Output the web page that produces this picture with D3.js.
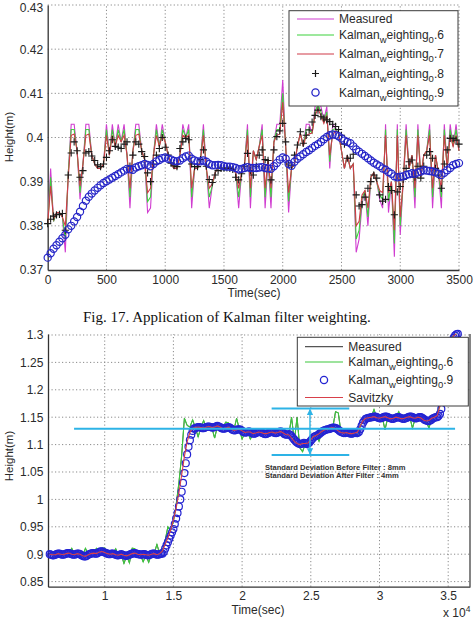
<!DOCTYPE html>
<html><head><meta charset="utf-8">
<script src="https://cdn.jsdelivr.net/npm/d3@7"></script>
<style>body{margin:0;background:#fff}svg{display:block}</style>
</head><body>
<svg id="chart" width="475" height="619"></svg>
<script>
// ================= DATA : top chart (Fig. 17) =================
const topStartSec = 0, topStepSec = 25;            // sample times: 0,25,...,3500 s
const topXTicks = [0,500,1000,1500,2000,2500,3000,3500];
const topYTicks = [0.37,0.38,0.39,0.40,0.41,0.42,0.43];
const topYLabels = ["0.37","0.38","0.39","0.4","0.41","0.42","0.43"];
const measuredTop = [
.380,.393,.381,.383,.383,.382,.374,.392,.403,.403,
.397,.386,.394,.403,.403,.396,.394,.393,.393,.394,
.403,.396,.403,.398,.403,.399,.403,.396,.384,.397,
.403,.403,.397,.395,.383,.384,.396,.403,.398,.403,
.399,.396,.394,.393,.393,.396,.403,.400,.403,.384,
.393,.393,.395,.403,.393,.384,.389,.392,.3935,.393,
.3925,.393,.3935,.393,.392,.384,.392,.394,.403,.384,
.397,.395,.398,.403,.384,.395,.384,.399,.403,.403,
.413,.398,.383,.393,.394,.398,.401,.398,.403,.403,
.401,.407,.409,.407,.404,.407,.393,.403,.402,.401,
.397,.393,.396,.393,.394,.374,.377,.385,.388,.380,
.391,.392,.390,.386,.384,.403,.383,.390,.373,.403,
.378,.390,.403,.393,.396,.384,.403,.391,.396,.397,
.403,.384,.396,.392,.384,.403,.393,.403,.398,.403,
.397];
const kalman06Top = [
.380,.391,.381,.383,.383,.382,.377,.392,.4018,.4018,
.397,.3875,.394,.4018,.4018,.396,.394,.393,.393,.394,
.4018,.396,.4018,.398,.4018,.399,.4018,.396,.3865,.397,
.4018,.4018,.397,.395,.3855,.3865,.396,.4018,.398,.4018,
.399,.396,.394,.393,.393,.396,.4018,.400,.4018,.3865,
.393,.393,.395,.4018,.393,.3865,.389,.392,.3935,.393,
.3925,.393,.3935,.393,.392,.3865,.392,.394,.4018,.3865,
.397,.395,.398,.4018,.3865,.395,.3865,.399,.4018,.4018,
.410,.398,.3855,.393,.394,.398,.401,.398,.4018,.4018,
.401,.4058,.4075,.4058,.4035,.4058,.3945,.4018,.402,.401,
.397,.393,.396,.393,.394,.377,.379,.386,.388,.382,
.391,.392,.390,.387,.386,.4018,.3855,.390,.376,.4018,
.380,.390,.4018,.393,.396,.3865,.4018,.391,.396,.397,
.4018,.3865,.396,.392,.3865,.4018,.393,.4018,.398,.4018,
.397];
const kalman07Top = [
.3805,.389,.3815,.383,.383,.382,.380,.391,.4005,.4008,
.397,.389,.394,.4005,.4008,.396,.394,.393,.393,.394,
.4005,.396,.4005,.398,.4005,.399,.4005,.396,.3885,.397,
.4005,.4008,.397,.395,.3875,.3885,.396,.4005,.398,.4005,
.399,.396,.394,.393,.393,.396,.4005,.400,.4005,.3885,
.393,.393,.395,.4005,.393,.3885,.3895,.392,.3933,.393,
.3927,.393,.3933,.393,.392,.3885,.392,.394,.4005,.3885,
.397,.395,.398,.4005,.3885,.395,.3885,.399,.4005,.4008,
.408,.398,.3875,.393,.394,.398,.401,.398,.4005,.4008,
.401,.405,.4065,.405,.4032,.405,.396,.4005,.4015,.401,
.397,.393,.396,.393,.394,.380,.381,.387,.388,.384,
.391,.392,.390,.388,.3875,.4005,.3875,.390,.379,.4005,
.382,.390,.4005,.393,.396,.3885,.4005,.391,.396,.397,
.4005,.3885,.396,.392,.3885,.4005,.393,.4005,.398,.4005,
.397];
const kalman08Top = [
.3805,.3815,.3822,.3825,.3826,.3828,.3790,.3915,.3965,.3990,
.3970,.3910,.3925,.3965,.3968,.3958,.3948,.3938,.3934,.3940,
.3955,.3970,.3995,.3980,.3978,.3975,.3985,.3990,.3935,.3960,
.3990,.3985,.3968,.3957,.3920,.3900,.3940,.3960,.3975,.4000,
.3978,.3960,.3942,.3936,.3934,.3975,.3990,.3998,.3995,.3940,
.3934,.3934,.3950,.3972,.3935,.3905,.3898,.3915,.3925,.3930,
.3931,.3931,.3930,.3928,.3910,.3904,.3918,.3935,.3964,.3925,
.3915,.3935,.3960,.3972,.3950,.3948,.3904,.3972,.4002,.4015,
.4032,.3990,.3940,.3936,.3960,.3983,.4013,.3987,.4005,.4017,
.4035,.4050,.4062,.4047,.4044,.4040,.4036,.4030,.4025,.4018,
.4005,.3985,.3953,.3953,.3962,.3870,.3845,.3848,.3865,.3885,
.3900,.3915,.3908,.3870,.3856,.3860,.3889,.3880,.3825,.3877,
.3889,.3905,.3930,.3945,.3949,.3910,.3935,.3908,.3935,.3960,
.3968,.3953,.3930,.3915,.3885,.3940,.3972,.3998,.3998,.3994,
.3985];
const kalman09Top = [
.3728,.3738,.3748,.3756,.3764,.3772,.3780,.3792,.3800,.3810,
.3820,.3832,.3845,.3857,.3866,.3873,.3880,.3886,.3892,.3897,
.3901,.3905,.3909,.3913,.3917,.3921,.3925,.3929,.3928,.3927,
.3932,.3935,.3937,.3940,.3938,.3935,.3940,.3946,.3949,.3953,
.3955,.3952,.3950,.3947,.3946,.3948,.3953,.3957,.3959,.3952,
.3948,.3946,.3946,.3948,.3945,.3940,.3937,.3937,.3938,.3937,
.3935,.3934,.3934,.3933,.3931,.3928,.3929,.3931,.3933,.3931,
.3931,.3931,.3932,.3933,.3931,.3930,.3929,.3935,.3942,.3950,
.3955,.3952,.3940,.3936,.3945,.3952,.3957,.3962,.3967,.3971,
.3976,.3981,.3985,.3990,.3996,.4001,.4005,.4007,.4006,.4003,
.3998,.3993,.3990,.3987,.3980,.3973,.3968,.3963,.3958,.3953,
.3948,.3943,.3939,.3935,.3930,.3927,.3922,.3918,.3912,.3910,
.3911,.3912,.3915,.3917,.3919,.3918,.3921,.3923,.3926,.3925,
.3924,.3923,.3921,.3918,.3915,.3920,.3926,.3931,.3937,.3940,
.3942];

// ================= DATA : bottom chart =================
const lowXTicks = [10000,15000,20000,25000,30000,35000];
const lowXLabels = ["1","1.5","2","2.5","3","3.5"];
const lowYTicks = [0.85,0.9,0.95,1,1.05,1.1,1.15,1.2,1.25,1.3];
const lowYLabels = ["0.85","0.9","0.95","1","1.05","1.1","1.15","1.2","1.25","1.3"];
const circleStartSec = 6000, circleStepSec = 100;  // Kalman 0.9 samples
const lineStartSec = 6000, lineStepSec = 200;      // Measured / Kalman 0.6 / Savitzky samples
const kalman09Low = [
.900,.899,.898,.898,.899,.900,.901,.901,.900,.899,
.899,.900,.901,.902,.902,.901,.900,.899,.899,.900,
.901,.901,.900,.898,.897,.896,.896,.897,.899,.900,
.901,.902,.902,.901,.901,.902,.904,.905,.905,.904,
.903,.902,.901,.900,.900,.901,.901,.900,.899,.898,
.898,.899,.900,.899,.898,.897,.897,.898,.899,.900,
.901,.902,.902,.901,.900,.900,.899,.899,.900,.900,
.899,.898,.898,.899,.900,.901,.901,.900,.899,.899,
.900,.901,.901,.904,.910,.916,.922,.928,.934,.940,
.946,.955,.965,.975,.987,1.000,1.014,1.030,1.048,1.066,
1.082,1.096,1.108,1.118,1.125,1.129,1.130,1.131,1.132,1.132,
1.131,1.130,1.130,1.131,1.132,1.133,1.133,1.132,1.131,1.131,
1.132,1.133,1.134,1.133,1.132,1.130,1.129,1.129,1.130,1.131,
1.132,1.131,1.129,1.127,1.126,1.126,1.127,1.128,1.128,1.127,
1.125,1.123,1.122,1.122,1.123,1.124,1.123,1.121,1.120,1.120,
1.121,1.122,1.123,1.123,1.122,1.121,1.120,1.119,1.120,1.121,
1.122,1.123,1.123,1.122,1.121,1.121,1.122,1.123,1.124,1.123,
1.121,1.119,1.118,1.118,1.119,1.118,1.115,1.112,1.109,1.106,
1.104,1.102,1.101,1.101,1.102,1.103,1.102,1.101,1.102,1.104,
1.107,1.110,1.113,1.115,1.116,1.117,1.119,1.121,1.123,1.125,
1.126,1.127,1.128,1.128,1.129,1.130,1.131,1.131,1.130,1.129,
1.127,1.125,1.123,1.122,1.121,1.121,1.122,1.122,1.121,1.120,
1.120,1.121,1.122,1.121,1.121,1.123,1.128,1.134,1.140,1.144,
1.147,1.148,1.149,1.149,1.150,1.150,1.151,1.151,1.150,1.149,
1.148,1.148,1.149,1.150,1.151,1.151,1.150,1.149,1.148,1.147,
1.147,1.148,1.149,1.150,1.150,1.149,1.148,1.147,1.147,1.148,
1.149,1.150,1.151,1.151,1.150,1.149,1.148,1.148,1.149,1.150,
1.150,1.149,1.147,1.145,1.144,1.143,1.143,1.144,1.146,1.148,
1.149,1.150,1.150,1.152,1.156,1.165,1.180,1.198,1.216,1.234,
1.250,1.265,1.278,1.288,1.295,1.299,1.301,1.302];
const savitzkyLow = [
.900,.899,.899,.901,.900,  .899,.901,.902,.900,.899,
.901,.900,.897,.896,.899,  .901,.902,.901,.904,.905,
.903,.901,.900,.901,.899,  .898,.900,.898,.897,.899,
.901,.902,.900,.899,.900,  .899,.898,.900,.901,.899,
.901,.906,.918,.930,.944,  .962,.984,1.012,1.044,1.078,
1.105,1.122,1.130,1.131,1.132,  1.131,1.130,1.132,1.133,1.131,
1.132,1.134,1.132,1.129,1.130,  1.132,1.129,1.126,1.127,1.128,
1.125,1.122,1.123,1.123,1.120,  1.121,1.123,1.122,1.120,1.120,
1.122,1.123,1.121,1.122,1.124,  1.121,1.118,1.118,1.112,1.106,
1.102,1.100,1.102,1.102,1.103,  1.109,1.115,1.117,1.120,1.124,
1.127,1.128,1.130,1.131,1.129,  1.125,1.122,1.121,1.122,1.120,
1.120,1.121,1.123,1.134,1.144,  1.148,1.149,1.150,1.151,1.149,
1.148,1.150,1.151,1.149,1.147,  1.148,1.150,1.149,1.147,1.148,
1.150,1.151,1.149,1.148,1.150,  1.149,1.145,1.143,1.144,1.148,
1.150,1.153,1.170,1.205,1.240,  1.268,1.288,1.299,1.302];
const kalman06Low = [
.900,.900,.899,.901,.900,  .899,.901,.902,.911,.899,
.901,.900,.897,.911,.899,  .901,.902,.911,.904,.911,
.911,.901,.900,.901,.910,  .898,.900,.883,.897,.884,
.911,.910,.900,.899,.886,  .899,.885,.900,.901,.918,
.901,.906,.925,.950,.944,  .960,.990,1.030,1.080,1.148,
1.135,1.132,1.145,1.131,1.114,  1.131,1.144,1.130,1.133,1.131,
1.112,1.133,1.132,1.129,1.141,  1.140,1.129,1.126,1.148,1.128,
1.110,1.122,1.123,1.110,1.120,  1.121,1.123,1.122,1.120,1.120,
1.122,1.123,1.121,1.122,1.124,  1.121,1.118,1.118,1.150,1.106,
1.150,1.094,1.087,1.102,1.103,  1.109,1.115,1.117,1.106,1.124,
1.127,1.128,1.130,1.131,1.160,  1.158,1.122,1.121,1.122,1.120,
1.115,1.121,1.115,1.134,1.144,  1.148,1.149,1.150,1.164,1.149,
1.148,1.150,1.127,1.149,1.147,  1.148,1.150,1.160,1.147,1.148,
1.150,1.151,1.130,1.148,1.150,  1.149,1.145,1.143,1.130,1.148,
1.150,1.153,1.180,1.215,1.250,  1.275,1.292,1.300,1.302];
const measuredLow = kalman06Low;   // raw trace lies under the Kalman 0.6 trace
// annotation (data units)
const meanLevel = 1.129, upperLevel = 1.166, lowerLevel = 1.081;
const meanSpanSec = [7770, 35500], stdSpanSec = [22150, 27800], arrowSec = 24940;
const annoLines = ["Standard Deviation Before Filter : 8mm","Standard Deviation After Filter : 4mm"];
const annoPos = [[21660, 1.054],[21660, 1.0385]];

// ================= DRAWING =================
const FONT = "'Liberation Sans', Arial, Helvetica, sans-serif";
const GRID = "#8a8a8a", AXIS = "#333", TXT = "#2a2a2a";
const svg = d3.select("#chart");

function panel(x, y, xt, xl, yt, yl, xPad, yPad) {
  const g = svg.append("g");
  const [x0, x1] = x.range(), [y0, y1] = y.range();
  g.selectAll(".gv").data(xt.filter(t => Math.abs(x(t) - x0) > 1)).enter().append("line")
    .attr("x1", d => x(d)).attr("x2", d => x(d)).attr("y1", y0).attr("y2", y1)
    .attr("stroke", GRID).attr("stroke-dasharray", "1.2,2.3").attr("stroke-width", 1);
  g.selectAll(".gh").data(yt.filter(t => Math.abs(y(t) - y0) > 1)).enter().append("line")
    .attr("y1", d => y(d)).attr("y2", d => y(d)).attr("x1", x0).attr("x2", x1)
    .attr("stroke", GRID).attr("stroke-dasharray", "1.2,2.3").attr("stroke-width", 1);
  const ax = g.append("g").attr("transform", `translate(0,${y0})`)
    .call(d3.axisBottom(x).tickValues(xt).tickFormat((d, i) => xl[i]).tickSize(0).tickSizeOuter(0).tickPadding(xPad));
  const ay = g.append("g").attr("transform", `translate(${x0},0)`)
    .call(d3.axisLeft(y).tickValues(yt).tickFormat((d, i) => yl[i]).tickSize(0).tickSizeOuter(0).tickPadding(yPad));
  [ax, ay].forEach(a => {
    a.attr("font-family", FONT).attr("font-size", 12);
    a.select(".domain").attr("stroke", AXIS).attr("stroke-width", 1.3);
    a.selectAll("text").attr("fill", TXT);
  });
  // keep a label that sits on the very top edge inside the picture
  ay.selectAll(".tick text").filter(function () {
    const tr = this.parentNode.getAttribute("transform");
    return tr && +tr.match(/,([\d.\-]+)\)/)[1] < 8;
  }).attr("dy", "0.5em");
  return g;
}

function plusPath(px, py, s) { return `M${px - s},${py}H${px + s}M${px},${py - s}V${py + s}`; }

function addLabel(sel, parts) {
  let sub = false;
  parts.forEach(([txt, isSub]) => {
    const dy = isSub && !sub ? 4 : (!isSub && sub ? -4 : 0);
    sel.append("tspan").attr("dy", dy).attr("font-size", isSub ? 9.5 : 12).text(txt);
    sub = isSub;
  });
}

function legend(g, box, lx, tx, items) {
  g.append("rect").attr("x", box[0]).attr("y", box[1]).attr("width", box[2] - box[0]).attr("height", box[3] - box[1])
    .attr("fill", "#fff").attr("stroke", "#3a3a3a").attr("stroke-width", 1);
  items.forEach(it => {
    if (it.type === "line") g.append("line").attr("x1", lx[0]).attr("x2", lx[1]).attr("y1", it.cy).attr("y2", it.cy)
      .attr("stroke", it.color).attr("stroke-width", 1.2);
    else if (it.type === "plus") g.append("path").attr("d", plusPath((lx[0] + lx[1]) / 2, it.cy, 3.5))
      .attr("stroke", it.color).attr("stroke-width", 1.2);
    else g.append("circle").attr("cx", (lx[0] + lx[1]) / 2).attr("cy", it.cy).attr("r", 3.6)
      .attr("fill", "none").attr("stroke", it.color).attr("stroke-width", 1.3);
    const t = g.append("text").attr("x", tx).attr("y", it.cy + 4).attr("font-family", FONT).attr("fill", TXT);
    addLabel(t, it.label);
  });
}
const kLabel = s => [["Kalman", 0], ["w", 1], ["eighting", 0], ["0", 1], [s, 0]];

// ---------- top chart ----------
const xT = d3.scaleLinear().domain([0, 3500]).range([47.7, 459]);
const yT = d3.scaleLinear().domain([0.37, 0.43]).range([270, 5]);
const gT = panel(xT, yT, topXTicks, topXTicks.map(String), topYTicks, topYLabels, 5, 4.5);
const tSec = i => topStartSec + i * topStepSec;
const lineT = d3.line().x((d, i) => xT(tSec(i))).y(d => yT(d));
[[measuredTop, "#d03cd0"], [kalman06Top, "#3cd23c"], [kalman07Top, "#d03a48"]].forEach(([arr, c]) =>
  gT.append("path").datum(arr).attr("d", lineT).attr("fill", "none").attr("stroke", c).attr("stroke-width", 1.1));
gT.append("g").selectAll("path").data(kalman08Top).enter().append("path")
  .attr("d", (d, i) => plusPath(xT(tSec(i)), yT(d), 3.6)).attr("stroke", "#1a1a1a").attr("stroke-width", 1.1);
gT.append("g").selectAll("circle").data(kalman09Top).enter().append("circle")
  .attr("cx", (d, i) => xT(tSec(i))).attr("cy", d => yT(d)).attr("r", 3.6)
  .attr("fill", "none").attr("stroke", "#2626c8").attr("stroke-width", 1.2);
legend(gT, [289, 10.7, 458, 106], [297, 334], 339, [
  {type: "line", color: "#d03cd0", cy: 19, label: [["Measured", 0]]},
  {type: "line", color: "#3cd23c", cy: 35, label: kLabel(".6")},
  {type: "line", color: "#d03a48", cy: 54, label: kLabel(".7")},
  {type: "plus", color: "#1a1a1a", cy: 73.5, label: kLabel(".8")},
  {type: "circle", color: "#2626c8", cy: 92.5, label: kLabel(".9")}
]);
svg.append("text").attr("x", 254).attr("y", 296.5).attr("text-anchor", "middle")
  .attr("font-family", FONT).attr("font-size", 12).attr("fill", TXT).text("Time(sec)");
svg.append("text").attr("transform", "translate(12.5,137) rotate(-90)").attr("text-anchor", "middle")
  .attr("font-family", FONT).attr("font-size", 11.5).attr("fill", TXT).text("Height(m)");

// caption
svg.append("text").attr("x", 83).attr("y", 322).attr("font-family", "'Liberation Serif','Times New Roman',serif")
  .attr("font-size", 15).attr("fill", "#111").text("Fig. 17. Application of Kalman filter weighting.");

// ---------- bottom chart ----------
const xB = d3.scaleLinear().domain([5873, 36587]).range([48, 470]);
const yB = d3.scaleLinear().domain([0.8407, 1.3018]).range([586.7, 334]);
const gB = panel(xB, yB, lowXTicks, lowXLabels, lowYTicks, lowYLabels, 4.3, 4.7);
gB.append("line").attr("x1", 470).attr("x2", 470).attr("y1", 334).attr("y2", 586.7)
  .attr("stroke", AXIS).attr("stroke-width", 1.2);
const lineB = d3.line().x((d, i) => xB(lineStartSec + i * lineStepSec)).y(d => yB(d));
gB.append("path").datum(measuredLow).attr("d", lineB).attr("fill", "none").attr("stroke", "#555").attr("stroke-width", 1);
gB.append("path").datum(kalman06Low).attr("d", lineB).attr("fill", "none").attr("stroke", "#3cc83c").attr("stroke-width", 1.1);
gB.append("g").selectAll("circle").data(kalman09Low).enter().append("circle")
  .attr("cx", (d, i) => xB(circleStartSec + i * circleStepSec)).attr("cy", d => yB(d)).attr("r", 3.5)
  .attr("fill", "none").attr("stroke", "#2424d2").attr("stroke-width", 1.2);
gB.append("path").datum(savitzkyLow).attr("d", lineB).attr("fill", "none").attr("stroke", "#d8404a").attr("stroke-width", 1.1);

// annotation
const CYAN = "#2db3e6";
const defs = svg.append("defs");
defs.append("marker").attr("id", "arr").attr("viewBox", "0 0 10 10").attr("refX", 9).attr("refY", 5)
  .attr("markerWidth", 4.5).attr("markerHeight", 4.5).attr("orient", "auto-start-reverse")
  .append("path").attr("d", "M0,0L10,5L0,10z").attr("fill", CYAN);
gB.append("line").attr("x1", xB(meanSpanSec[0])).attr("x2", xB(meanSpanSec[1]))
  .attr("y1", yB(meanLevel)).attr("y2", yB(meanLevel)).attr("stroke", CYAN).attr("stroke-width", 2);
[upperLevel, lowerLevel].forEach(v => gB.append("line").attr("x1", xB(stdSpanSec[0])).attr("x2", xB(stdSpanSec[1]))
  .attr("y1", yB(v)).attr("y2", yB(v)).attr("stroke", CYAN).attr("stroke-width", 2));
gB.append("line").attr("x1", xB(arrowSec)).attr("x2", xB(arrowSec)).attr("y1", yB(upperLevel) + 1).attr("y2", yB(lowerLevel) - 1)
  .attr("stroke", CYAN).attr("stroke-width", 1.4).attr("marker-start", "url(#arr)").attr("marker-end", "url(#arr)");
annoLines.forEach((s, i) => gB.append("text").attr("x", xB(annoPos[i][0])).attr("y", yB(annoPos[i][1]))
  .attr("font-family", FONT).attr("font-weight", "bold").attr("font-size", 7.6).attr("fill", "#333").text(s));

legend(gB, [297.3, 337.3, 468.3, 406], [305, 343], 348.3, [
  {type: "line", color: "#555", cy: 346.7, label: [["Measured", 0]]},
  {type: "line", color: "#3cc83c", cy: 362, label: kLabel(".6")},
  {type: "circle", color: "#2424d2", cy: 380, label: kLabel(".9")},
  {type: "line", color: "#d8404a", cy: 397.5, label: [["Savitzky", 0]]}
]);
svg.append("text").attr("x", 258).attr("y", 613.5).attr("text-anchor", "middle")
  .attr("font-family", FONT).attr("font-size", 12).attr("fill", TXT).text("Time(sec)");
svg.append("text").attr("transform", "translate(12.5,456) rotate(-90)").attr("text-anchor", "middle")
  .attr("font-family", FONT).attr("font-size", 11.5).attr("fill", TXT).text("Height(m)");
const xe = svg.append("text").attr("x", 443).attr("y", 617).attr("font-family", FONT).attr("font-size", 12).attr("fill", TXT);
xe.append("tspan").text("x 10");
xe.append("tspan").attr("dy", -5).attr("font-size", 8.5).text("4");
</script>
</body></html>
